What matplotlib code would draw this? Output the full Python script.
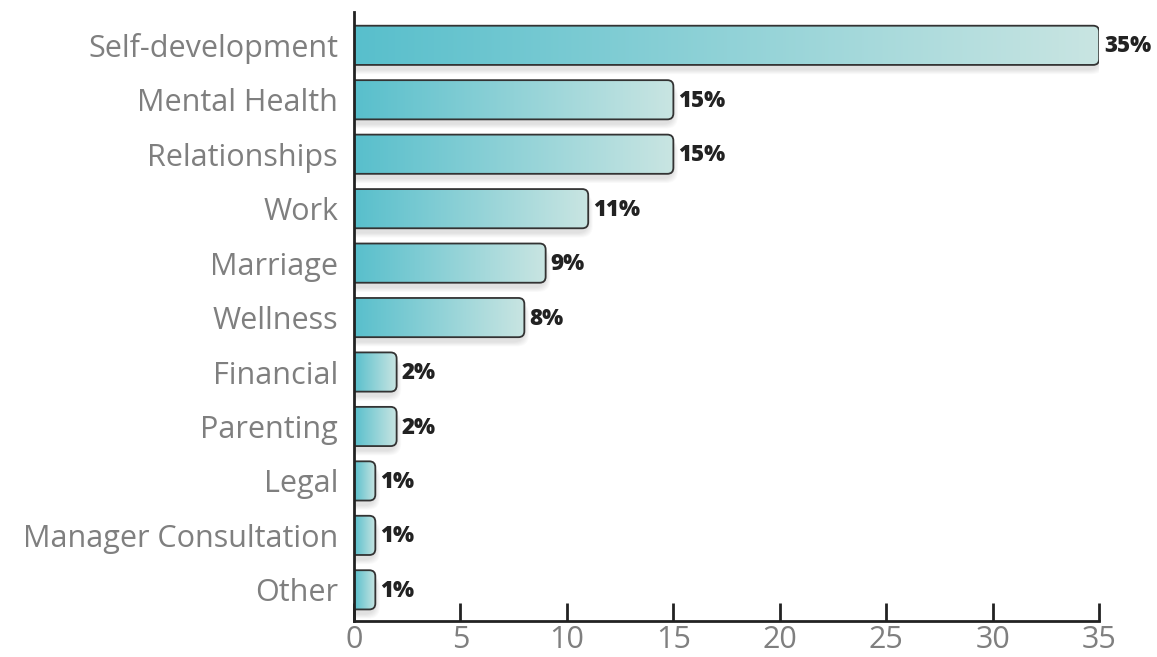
import numpy as np
import matplotlib.pyplot as plt
from matplotlib.patches import FancyBboxPatch
from matplotlib.colors import LinearSegmentedColormap

categories = ["Self-development", "Mental Health", "Relationships", "Work", "Marriage",
              "Wellness", "Financial", "Parenting", "Legal", "Manager Consultation", "Other"]
values = [35, 15, 15, 11, 9, 8, 2, 2, 1, 1, 1]
xticks = [0, 5, 10, 15, 20, 25, 30, 35]

plt.rcParams['font.family'] = ['Open Sans', 'DejaVu Sans']

fig = plt.figure(figsize=(11.57, 6.57), dpi=100)
ax = fig.add_axes([0.306, 0.055, 0.644, 0.927])

cmap = LinearSegmentedColormap.from_list("teal", ["#58bfcc", "#c9e5e2"])
grad = np.linspace(0, 1, 256).reshape(1, -1)

ax.set_xlim(0, 35)
ax.set_ylim(10.57, -0.615)

bar_h = 0.72
# px per data unit in x and y, for keeping the corner radius round
px_x = 0.644 * 1157 / 35
px_y = 0.927 * 657 / (10.57 + 0.615)
aspect = px_x / px_y
rad = 6 / px_x

for i, v in enumerate(values):
    y0 = i - bar_h / 2
    # soft drop shadow
    for k in range(6):
        grow = 0.06 * (k + 1)
        sh = FancyBboxPatch((-1, y0 + 0.08), v + 1 + grow * 0.6, bar_h + grow * 0.25,
                            boxstyle=f"round,pad=0,rounding_size={rad * 2}",
                            mutation_aspect=aspect, facecolor="#000000",
                            edgecolor="none", alpha=0.02, zorder=1)
        ax.add_patch(sh)
    box = FancyBboxPatch((-1, y0), v + 1, bar_h,
                         boxstyle=f"round,pad=0,rounding_size={rad}",
                         mutation_aspect=aspect, facecolor="none",
                         edgecolor="#333333", linewidth=1.3, zorder=3)
    ax.add_patch(box)
    im = ax.imshow(grad, cmap=cmap, aspect="auto", extent=[0, v, y0 + bar_h, y0],
                   zorder=2, interpolation="bicubic")
    im.set_clip_path(box)
    ax.text(v + 0.22, i + 0.02, f"{v}%", va="center", ha="left", fontsize=16,
            fontweight="heavy", color="#222222", zorder=4)

ax.set_yticks(range(len(categories)))
ax.set_yticklabels(categories)
ax.set_xticks(xticks)
ax.tick_params(axis="y", length=0, pad=11.5, labelsize=22, labelcolor="#7f7f7f")
ax.tick_params(axis="x", direction="in", length=13, width=2, color="#222222",
               labelsize=22, labelcolor="#7f7f7f", pad=3)
for s in ["top", "right"]:
    ax.spines[s].set_visible(False)
for s in ["left", "bottom"]:
    ax.spines[s].set_linewidth(2)
    ax.spines[s].set_color("#222222")
    ax.spines[s].set_zorder(5)

fig.savefig("out.png", dpi=100)
